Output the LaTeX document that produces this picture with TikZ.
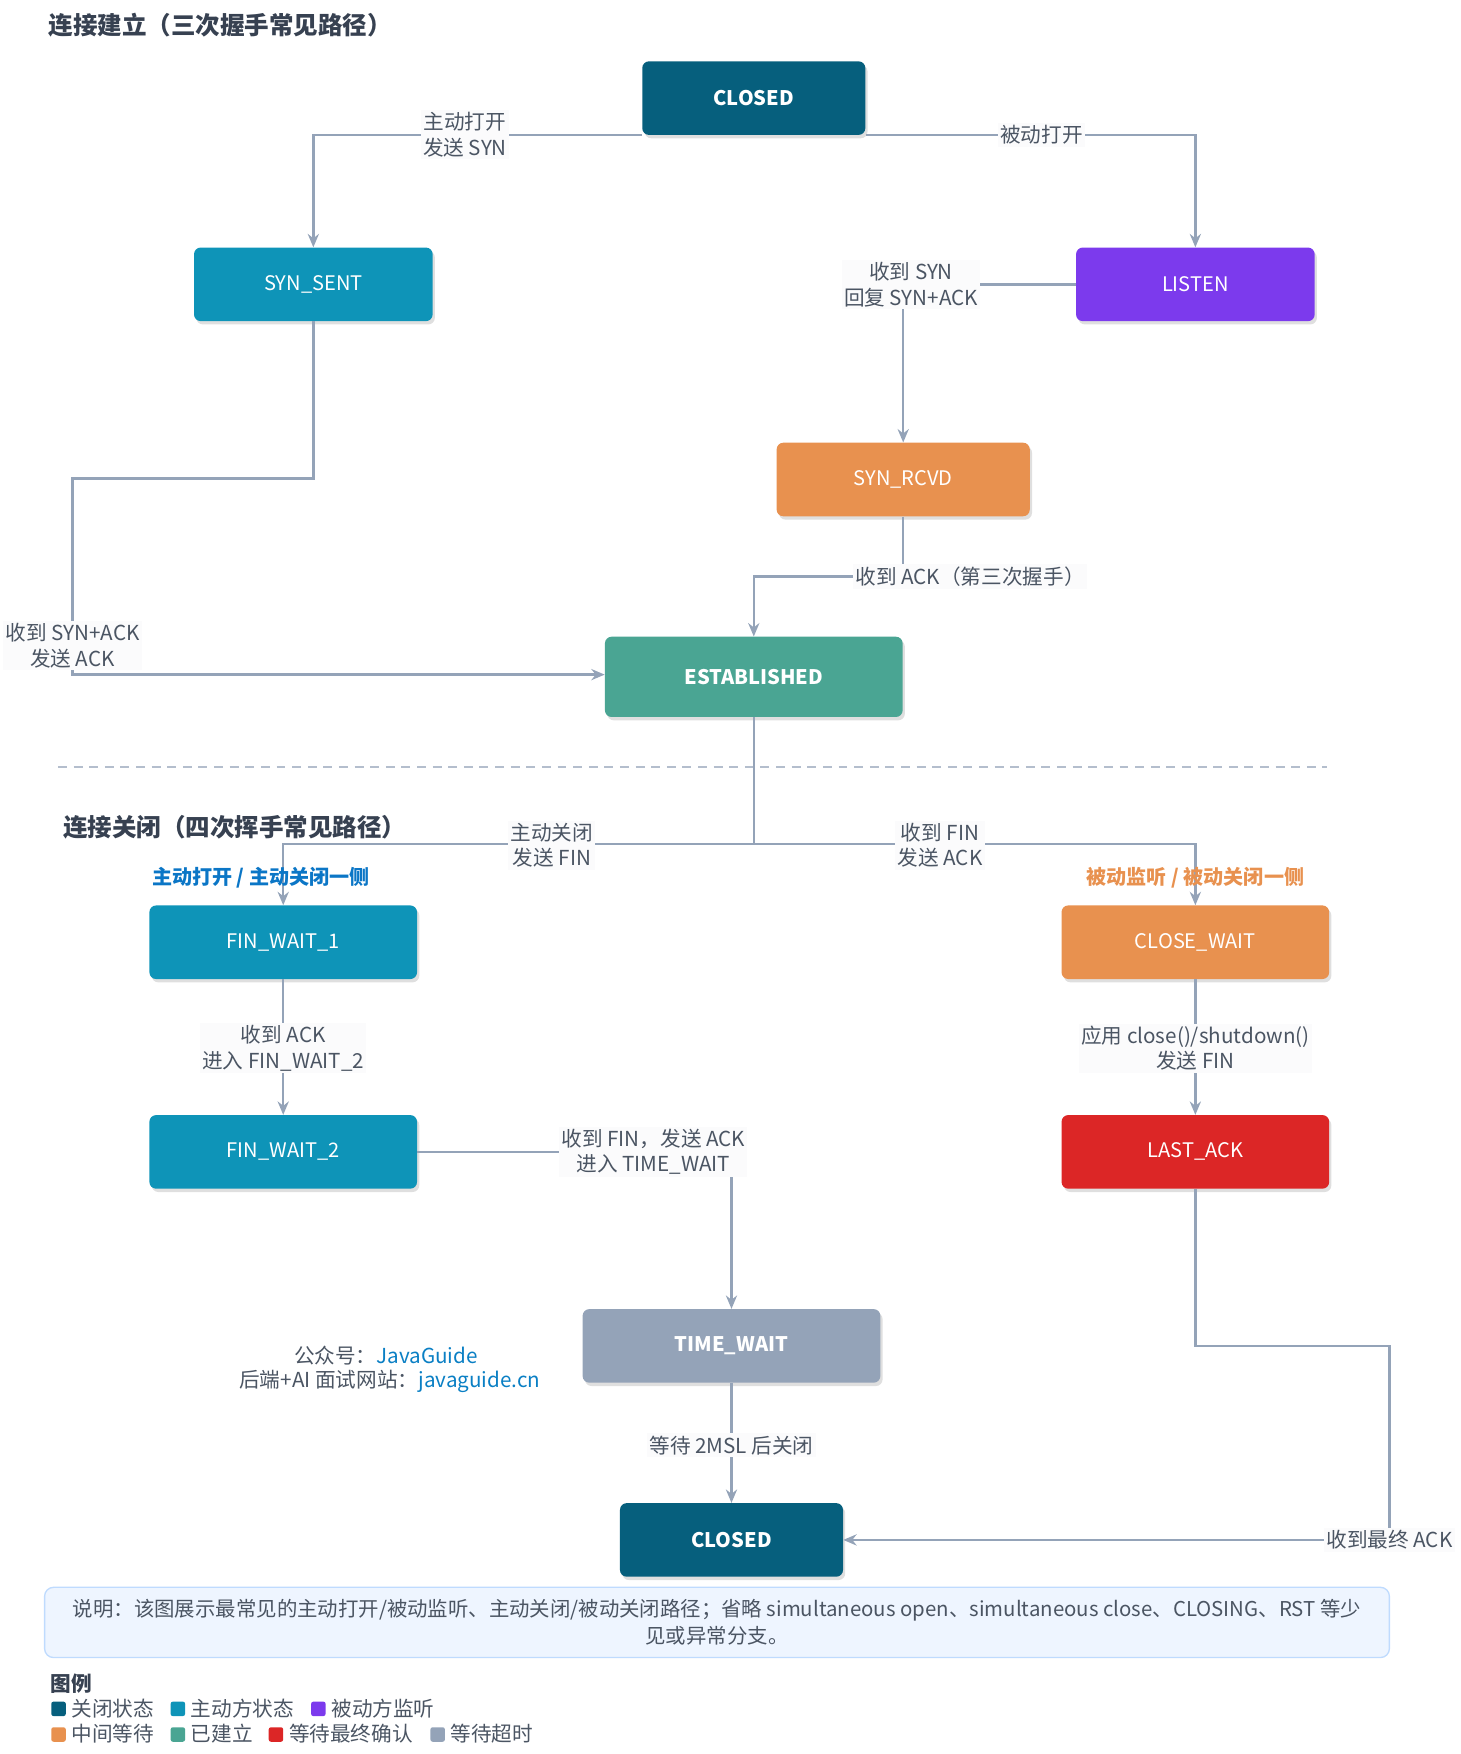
\documentclass[tikz,border=0pt]{standalone}
\usepackage{fontspec}
\setmainfont{Noto Sans CJK SC}
\usetikzlibrary{shadows,arrows.meta}
\definecolor{cdark}{HTML}{065F7D}
\definecolor{cact}{HTML}{0E94B8}
\definecolor{cpur}{HTML}{7C3AED}
\definecolor{corg}{HTML}{E8914F}
\definecolor{cest}{HTML}{4AA593}
\definecolor{cred}{HTML}{DC2626}
\definecolor{cgray}{HTML}{94A3B8}
\definecolor{ctxt}{HTML}{4B5563}
\definecolor{ctitle}{HTML}{374151}
\definecolor{clink}{HTML}{0A7FC4}
\definecolor{nfill}{HTML}{EEF5FF}
\definecolor{nbord}{HTML}{BFDBFE}
\begin{document}
\begin{tikzpicture}[x=1pt,y=-1pt,
 st/.style={draw=none,rounded corners=6pt,minimum height=66pt,text=white,font=\fontsize{18}{21}\selectfont,drop shadow={opacity=0.25,shadow xshift=2pt,shadow yshift=-3pt}},
 bst/.style={st,font=\fontsize{18}{21}\selectfont\bfseries},
 e/.style={draw=cgray,line width=2.2pt,-{Stealth[length=12pt,width=10pt]}},
 lb/.style={fill=white!96!cgray,text=ctxt,font=\fontsize{18.5}{23}\selectfont,align=center,inner sep=2pt},
 ttl/.style={anchor=west,text=ctitle,font=\fontsize{22}{26}\selectfont\bfseries},
 lg/.style={anchor=west,text=ctxt,font=\fontsize{18.5}{21}\selectfont,inner sep=1pt}]
\useasboundingbox (0,0) rectangle (1310,1573);
\node[ttl] (t1) at (40,23) {连接建立（三次握手常见路径）};
\node[ttl] (t2) at (53,742) {连接关闭（四次挥手常见路径）};
\node[bst,fill=cdark,minimum width=200pt] (c1) at (676,88) {CLOSED};
\node[st,fill=cact,minimum width=214pt] (ss) at (281,255) {SYN\_SENT};
\node[st,fill=cpur,minimum width=214pt] (li) at (1072,255) {LISTEN};
\node[st,fill=corg,minimum width=227pt] (sr) at (810,430) {SYN\_RCVD};
\node[bst,fill=cest,minimum width=267pt,minimum height=72pt] (es) at (676,607) {ESTABLISHED};
\node[st,fill=cact,minimum width=240pt] (f1) at (254,845) {FIN\_WAIT\_1};
\node[st,fill=corg,minimum width=240pt] (cw) at (1072,845) {CLOSE\_WAIT};
\node[st,fill=cact,minimum width=240pt] (f2) at (254,1033) {FIN\_WAIT\_2};
\node[st,fill=cred,minimum width=240pt] (la) at (1072,1033) {LAST\_ACK};
\node[bst,fill=cgray,minimum width=267pt] (tw) at (656,1207) {TIME\_WAIT};
\node[bst,fill=cdark,minimum width=200pt] (c2) at (656,1381) {CLOSED};
\coordinate (k1) at (281,121);
\draw[e] (c1.south west|-k1) -- (k1) -- (ss.north);
\node[lb] (l1) at (417,121) {主动打开\\发送 SYN};
\draw[e] (c1.south east|-k1) -- (1072,121) -- (li.north);
\node[lb] (l2) at (934,121) {被动打开};
\draw[e] (li.west) -- (810,255) -- (sr.north);
\node[lb] (l3) at (817,255) {收到 SYN\\回复 SYN+ACK};
\draw[e] (sr.south) -- (810,517) -- (676,517) -- (es.north);
\node[lb] (l4) at (870,517) {收到 ACK（第三次握手）};
\draw[e] (ss.south) -- (281,429) -- (65,429) -- (65,605) -- (es.west|-0,605);
\node[lb] (l5) at (65,579) {收到 SYN+ACK\\发送 ACK};
\draw[cgray!70,line width=1.5pt,dash pattern=on 8pt off 6pt] (52,688) -- (1190,688);
\draw[e] (es.south) -- (676,757) -- (254,757) -- (f1.north);
\draw[e] (676,757) -- (1072,757) -- (cw.north);
\node[lb] (l6) at (495,758) {主动关闭\\发送 FIN};
\node[lb] (l7) at (843,758) {收到 FIN\\发送 ACK};
\node[text=cact!80!blue,font=\fontsize{18}{21}\selectfont\bfseries] (s1) at (234,787) {主动打开 / 主动关闭一侧};
\node[text=corg,font=\fontsize{18}{21}\selectfont\bfseries] (s2) at (1072,787) {被动监听 / 被动关闭一侧};
\draw[e] (f1) -- (f2);
\node[lb] (l8) at (254,940) {收到 ACK\\进入 FIN\_WAIT\_2};
\draw[e] (cw) -- (la);
\node[lb] (l9) at (1072,940) {应用 close()/shutdown()\\发送 FIN};
\draw[e] (f2.east) -- (656,1033) -- (tw.north);
\node[lb] (l10) at (586,1033) {收到 FIN，发送 ACK\\进入 TIME\_WAIT};
\draw[e] (tw) -- (c2);
\node[lb] (l11) at (656,1296) {等待 2MSL 后关闭};
\draw[e] (la.south) -- (1072,1207) -- (1246,1207) -- (1246,1381) -- (c2.east);
\node[lb] (l12) at (1246,1381) {收到最终 ACK};
\node[anchor=east,text=ctxt,font=\fontsize{18.5}{21}\selectfont] (w1) at (432,1216) {公众号：\textcolor{clink}{JavaGuide}};
\node[anchor=east,text=ctxt,font=\fontsize{18.5}{21}\selectfont] (w2) at (488,1239) {后端+AI 面试网站：\textcolor{clink}{javaguide.cn}};
\node[draw=nbord,line width=1.2pt,fill=nfill,rounded corners=8pt,minimum width=1206pt,minimum height=63pt,text=ctxt,align=center,font=\fontsize{18.3}{24}\selectfont,inner xsep=10pt] (nt) at (643,1455) {说明：该图展示最常见的主动打开/被动监听、主动关闭/被动关闭路径；省略 simultaneous open、simultaneous close、CLOSING、RST 等少\\见或异常分支。};
\node[anchor=west,text=ctitle,font=\fontsize{18.5}{21}\selectfont\bfseries] (lgt) at (42,1510) {图例};
\foreach \c/\t/\x/\y [count=\i] in {cdark/关闭状态/46/1532, cact/主动方状态/153/1532, cpur/被动方监听/279/1532, corg/中间等待/46/1555, cest/已建立/153/1555, cred/等待最终确认/241/1555, cgray/等待超时/386/1555}{
 \fill[\c,rounded corners=2pt] (\x,\y-6) rectangle (\x+13,\y+7);
 \node[lg] (lg\i) at (\x+17,\y) {\t};
}
\end{tikzpicture}
\end{document}
